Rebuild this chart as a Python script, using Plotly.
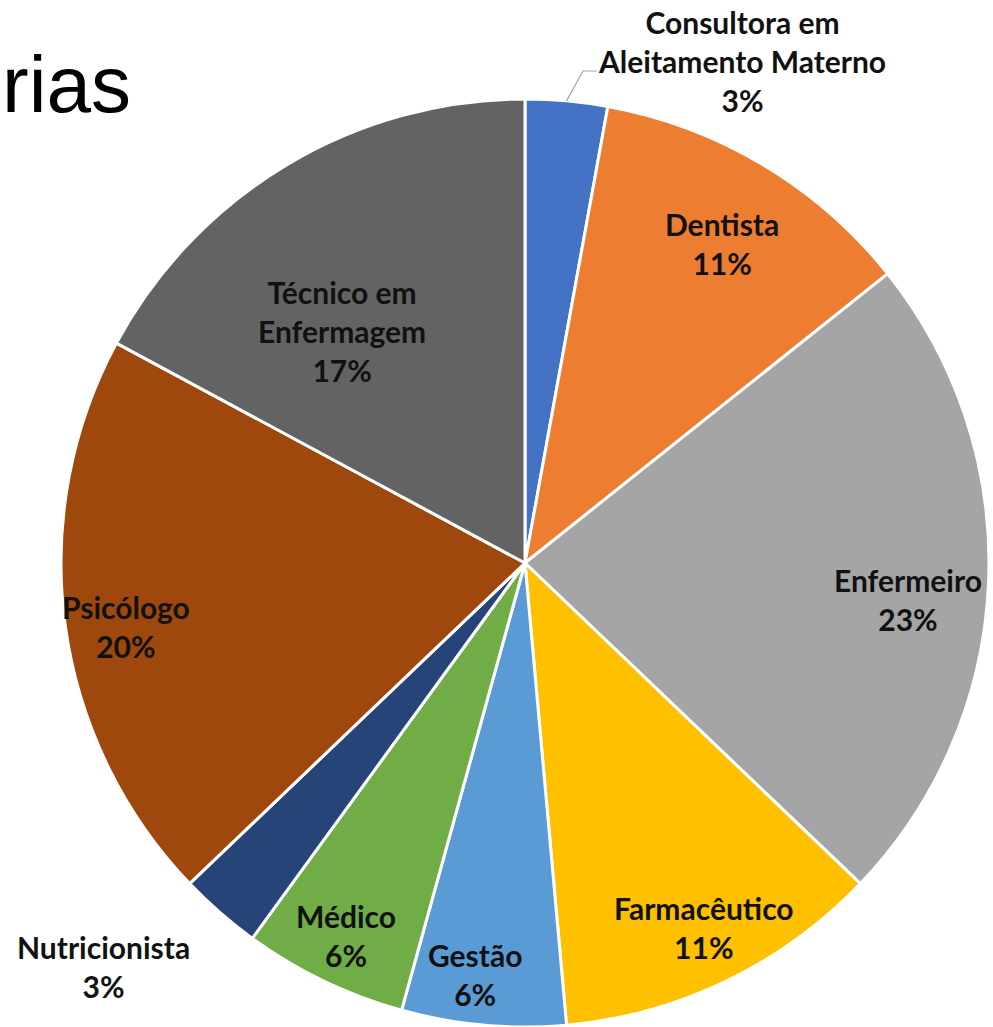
import math
import plotly.graph_objects as go

# ---- data ----
categories = ["Consultora em<br>Aleitamento Materno", "Dentista", "Enfermeiro", "Farmacêutico",
              "Gestão", "Médico", "Nutricionista", "Psicólogo", "Técnico em<br>Enfermagem"]
counts = [1, 4, 8, 4, 2, 2, 1, 7, 6]
percent_labels = ["3%", "11%", "23%", "11%", "6%", "6%", "3%", "20%", "17%"]
colors = ["#4472C4", "#ED7D31", "#A5A5A5", "#FFC000", "#5B9BD5",
          "#70AD47", "#264478", "#9E480E", "#636363"]

# ---- layout geometry (pixels) ----
W, H = 993, 1027
CX, CY, R = 525, 563, 464
# radial fraction / angle shift for inside labels (None -> outside label)
label_frac = [None, 0.81, 0.83, 0.875, 0.893, 0.89, None, 0.87, 0.637]
label_shift = [0, 0.8, 2.9, -0.5, 1.8, 0.0, 0, -1.4, -7.5]


def to_paper(px, py):
    return px / W, 1 - py / H


fig = go.Figure(go.Pie(
    labels=categories,
    values=counts,
    sort=False,
    direction="clockwise",
    rotation=0,
    marker=dict(colors=colors, line=dict(color="white", width=3)),
    textinfo="none",
    hoverinfo="label+percent",
    showlegend=False,
    domain=dict(x=[(CX - R) / W, (CX + R) / W], y=[1 - (CY + R) / H, 1 - (CY - R) / H]),
))

font = dict(family="Lato, Open Sans, sans-serif", size=30, color="#111111", weight=700)

total = sum(counts)
cum = 0
annotations = []
mid_angles = []
for name, c, pct, f, s in zip(categories, counts, percent_labels, label_frac, label_shift):
    mid = (cum + c / 2) / total * 360.0
    cum += c
    mid_angles.append(mid)
    if f is None:
        continue
    ang = math.radians(mid + s)
    x, y = to_paper(CX + f * R * math.sin(ang), CY - f * R * math.cos(ang))
    annotations.append(dict(x=x, y=y, xref="paper", yref="paper",
                            text=f"{name}<br>{pct}", showarrow=False, font=font,
                            xanchor="center", yanchor="middle"))

# outside labels
x, y = to_paper(742, 61)
annotations.append(dict(x=x, y=y, xref="paper", yref="paper",
                        text=f"{categories[0]}<br>{percent_labels[0]}", showarrow=False,
                        font=font, xanchor="center", yanchor="middle"))
x, y = to_paper(103, 966)
annotations.append(dict(x=x, y=y, xref="paper", yref="paper",
                        text=f"{categories[6]}<br>{percent_labels[6]}", showarrow=False,
                        font=font, xanchor="center", yanchor="middle"))

# partially visible title
x, y = to_paper(0, 84)
annotations.append(dict(x=x, y=y, xref="paper", yref="paper",
                        text="rias", showarrow=False,
                        font=dict(family="Liberation Sans, Arial, sans-serif", size=80, color="#000000"),
                        xanchor="left", yanchor="middle"))

# leader line for the Consultora label
a0 = math.radians(mid_angles[0])
ex, ey = to_paper(CX + R * math.sin(a0), CY - R * math.cos(a0))
k1x, k1y = to_paper(583, 71)
k2x, k2y = to_paper(597, 71)
shapes = [dict(type="path", xref="paper", yref="paper",
               path=f"M {ex},{ey} L {k1x},{k1y} L {k2x},{k2y}",
               line=dict(color="#A6A6A6", width=1.2))]

fig.update_layout(
    width=W, height=H,
    margin=dict(l=0, r=0, t=0, b=0),
    paper_bgcolor="white", plot_bgcolor="white",
    annotations=annotations,
    shapes=shapes,
)

fig.write_html("out.html", config={"displayModeBar": False},
               post_script="document.body.style.margin='0';")
